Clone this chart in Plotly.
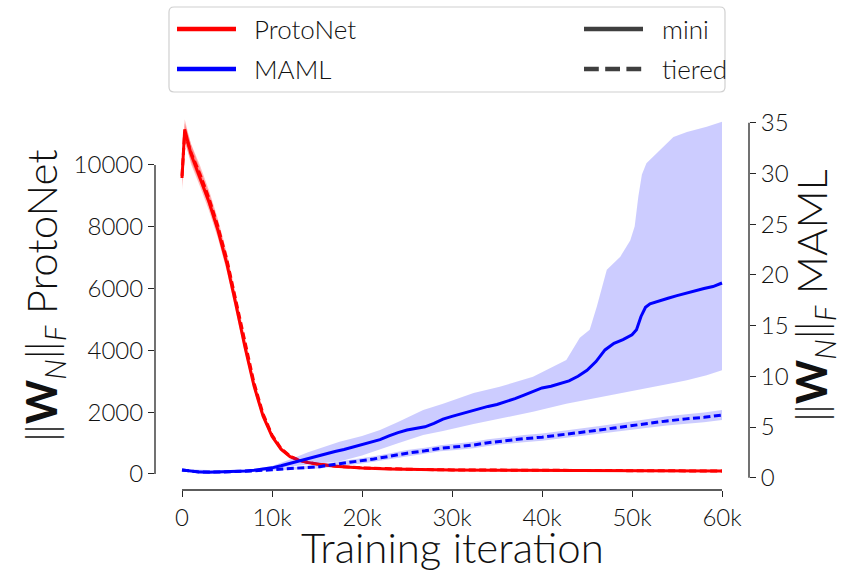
import plotly.graph_objects as go

# ---------------- data ----------------
proto_mini_it = [0, 300, 1000, 2000, 3000, 4000, 5000, 6000, 7000, 8000, 9000, 10000, 11000, 12000,
                 13000, 14000, 15000, 17000, 20000, 23000, 26000, 30000, 35000, 40000, 45000, 50000,
                 55000, 60000]
proto_mini = [9580, 11150, 10350, 9600, 8800, 7880, 6780, 5470, 4100, 2850, 1880, 1220, 800, 560,
              440, 370, 320, 250, 190, 162, 145, 130, 120, 112, 105, 100, 97, 95]
proto_mini_sd = [380, 330, 320, 300, 280, 260, 240, 215, 180, 145, 115, 85, 60, 45,
                 35, 30, 25, 22, 20, 18, 17, 16, 15, 15, 14, 14, 14, 14]

proto_tiered_it = proto_mini_it
proto_tiered = [9650, 11050, 10400, 9700, 8920, 8000, 6920, 5600, 4220, 2950, 1950, 1260, 830, 580,
                450, 375, 325, 255, 195, 165, 148, 132, 122, 113, 106, 101, 98, 96]
proto_tiered_sd = [350, 300, 290, 280, 260, 240, 220, 195, 160, 125, 95, 70, 50, 40,
                   32, 28, 24, 21, 19, 17, 16, 15, 14, 14, 13, 13, 13, 13]

maml_mini_it = [0, 1000, 2000, 3000, 4000, 5000, 6000, 7000, 8000, 9000, 10000, 11000, 12000, 13000,
                14000, 15000, 16000, 17000, 18000, 19000, 20000, 21000, 22000, 23000, 24000, 25000,
                26000, 27000, 28000, 29000, 30000, 31000, 32000, 33000, 34000, 35000, 36000, 37000,
                38000, 39000, 40000, 41000, 42000, 43000, 44000, 45000, 46000, 47000, 48000, 49000,
                50000, 50500, 51000, 51500, 52000, 53000, 54000, 55000, 56000, 57000, 58000, 59000,
                60000]
maml_mini = [0.76, 0.63, 0.55, 0.53, 0.55, 0.59, 0.63, 0.67, 0.74, 0.83, 0.97, 1.18, 1.42, 1.64,
             1.88, 2.15, 2.38, 2.58, 2.78, 3.02, 3.22, 3.45, 3.75, 4.12, 4.45, 4.70,
             4.88, 5.02, 5.35, 5.78, 6.05, 6.30, 6.58, 6.82, 7.03, 7.22, 7.50, 7.80,
             8.15, 8.47, 8.85, 9.02, 9.25, 9.55, 10.0, 10.6, 11.45, 12.6, 13.25, 13.62,
             14.1, 14.6, 15.9, 16.8, 17.15, 17.45, 17.7, 17.95, 18.2, 18.45, 18.65, 18.85,
             19.2]
maml_mini_band_it = [0, 5000, 8000, 10000, 12000, 14000, 16000, 17500, 20000, 22000, 24000, 26800,
                     29000, 32400, 35300, 39000, 42700, 44200, 45300, 46100, 47200, 48700, 49800,
                     50300, 50700, 51100, 51600, 53100, 54600, 56100, 58300, 60000]
maml_mini_upper = [0.85, 0.68, 0.85, 1.15, 1.8, 2.5, 3.1, 3.55, 4.1, 4.7, 5.5, 6.68,
                   7.3, 8.35, 8.96, 9.96, 11.6, 13.8, 14.6, 16.9, 20.5, 21.8, 23.4,
                   24.8, 27.7, 29.9, 31.0, 32.3, 33.6, 34.1, 34.6, 35.1]
maml_mini_lower = [0.67, 0.52, 0.65, 0.82, 1.08, 1.3, 1.5, 1.6, 2.2, 2.8, 3.4, 4.2,
                   4.6, 5.3, 5.86, 6.5, 7.3, 7.55, 7.75, 7.9, 8.05, 8.3, 8.5,
                   8.6, 8.65, 8.7, 8.8, 9.1, 9.35, 9.6, 10.1, 10.6]

maml_tiered_it = [0, 2000, 4000, 6000, 8000, 10000, 12000, 14000, 15300, 17500, 20000, 21300, 23000,
                  25000, 27000, 28700, 30500, 32400, 34000, 35300, 36400, 38000, 40000, 42000, 44000,
                  46400, 48000, 50000, 52000, 53900, 56000, 58000, 60000]
maml_tiered = [0.76, 0.55, 0.55, 0.6, 0.68, 0.78, 0.88, 1.0, 1.09, 1.38, 1.65, 1.85, 2.1,
               2.42, 2.65, 2.9, 3.05, 3.22, 3.45, 3.6, 3.72, 3.85, 4.0, 4.2, 4.45,
               4.7, 4.9, 5.15, 5.4, 5.6, 5.8, 5.95, 6.18]
maml_tiered_sd = [0.08, 0.06, 0.06, 0.07, 0.08, 0.1, 0.12, 0.15, 0.18, 0.22, 0.25, 0.27, 0.28,
                  0.3, 0.3, 0.3, 0.32, 0.32, 0.33, 0.33, 0.34, 0.35, 0.36, 0.37, 0.38,
                  0.4, 0.4, 0.42, 0.44, 0.45, 0.46, 0.48, 0.5]

x_ticks = [0, 10000, 20000, 30000, 40000, 50000, 60000]
x_ticklabels = ["0", "10k", "20k", "30k", "40k", "50k", "60k"]
y_left_ticks = [0, 2000, 4000, 6000, 8000, 10000]
y_right_ticks = [0, 5, 10, 15, 20, 25, 30, 35]

legend_methods = ["ProtoNet", "MAML"]
legend_datasets = ["mini", "tiered"]

# ---------------- layout geometry ----------------
W, H = 846, 572
ML, MR, MT, MB = 155, 97, 103, 82
PW = W - ML - MR
PH = H - MT - MB


def px_x(px):
    return (px - ML) / PW


def px_y(py):
    return (H - MB - py) / PH


FONT = "Lato"
WEIGHT = 300
TXT = "#111111"
SPINE = "#262626"
RED = "#ff0000"
BLUE = "#0000ff"
RED_FILL = "rgba(255,0,0,0.25)"
BLUE_FILL = "rgba(0,0,255,0.2)"

fig = go.Figure()


def band(x, lo, hi, color, yaxis):
    fig.add_trace(go.Scatter(x=list(x) + list(x)[::-1], y=list(hi) + list(lo)[::-1],
                             fill="toself", fillcolor=color, line=dict(width=0),
                             mode="lines", showlegend=False, hoverinfo="skip", yaxis=yaxis))


def line(x, y, color, dash, yaxis):
    fig.add_trace(go.Scatter(x=x, y=y, mode="lines", line=dict(color=color, width=3, dash=dash),
                             showlegend=False, yaxis=yaxis))


# ProtoNet (left axis)
band(proto_mini_it, [v - s for v, s in zip(proto_mini, proto_mini_sd)],
     [v + s for v, s in zip(proto_mini, proto_mini_sd)], RED_FILL, "y")
line(proto_mini_it, proto_mini, RED, "solid", "y")
band(proto_tiered_it, [v - s for v, s in zip(proto_tiered, proto_tiered_sd)],
     [v + s for v, s in zip(proto_tiered, proto_tiered_sd)], RED_FILL, "y")
line(proto_tiered_it, proto_tiered, RED, "7px,3.5px", "y")

# MAML (right axis)
band(maml_mini_band_it, maml_mini_lower, maml_mini_upper, BLUE_FILL, "y2")
line(maml_mini_it, maml_mini, BLUE, "solid", "y2")
band(maml_tiered_it, [v - s for v, s in zip(maml_tiered, maml_tiered_sd)],
     [v + s for v, s in zip(maml_tiered, maml_tiered_sd)], BLUE_FILL, "y2")
line(maml_tiered_it, maml_tiered, BLUE, "7px,3.5px", "y2")

tickfont = dict(family=FONT, size=24, color=TXT, weight=WEIGHT)
common = dict(showgrid=False, zeroline=False, showline=False, ticks="outside", ticklen=6,
              tickwidth=1.3, tickcolor=SPINE, tickfont=tickfont)

fig.update_layout(
    width=W, height=H, margin=dict(l=ML, r=MR, t=MT, b=MB),
    paper_bgcolor="white", plot_bgcolor="white", showlegend=False,
    xaxis=dict(range=[-3000, 63000], tickvals=x_ticks, ticktext=x_ticklabels, **common),
    yaxis=dict(range=[-518, 12006], tickvals=y_left_ticks,
               ticktext=[str(v) for v in y_left_ticks], **common),
    yaxis2=dict(range=[-1.213, 36.95], tickvals=y_right_ticks, overlaying="y", side="right",
                anchor="x", **common),
)

shapes = []
# trimmed spines
shapes.append(dict(type="line", xref="paper", yref="y", x0=0, x1=0, y0=0, y1=10000,
                   line=dict(color=SPINE, width=1.3)))
shapes.append(dict(type="line", xref="x", yref="paper", x0=0, x1=60000, y0=0, y1=0,
                   line=dict(color=SPINE, width=1.3)))
shapes.append(dict(type="line", xref="paper", yref="y2", x0=1, x1=1, y0=0, y1=35,
                   line=dict(color=SPINE, width=1.3)))

# legend box (rounded)
bx0, bx1, by0, by1, r = 169, 725, 7, 92, 5
path = (f"M {px_x(bx0 + r)},{px_y(by0)} L {px_x(bx1 - r)},{px_y(by0)} "
        f"Q {px_x(bx1)},{px_y(by0)} {px_x(bx1)},{px_y(by0 + r)} "
        f"L {px_x(bx1)},{px_y(by1 - r)} Q {px_x(bx1)},{px_y(by1)} {px_x(bx1 - r)},{px_y(by1)} "
        f"L {px_x(bx0 + r)},{px_y(by1)} Q {px_x(bx0)},{px_y(by1)} {px_x(bx0)},{px_y(by1 - r)} "
        f"L {px_x(bx0)},{px_y(by0 + r)} Q {px_x(bx0)},{px_y(by0)} {px_x(bx0 + r)},{px_y(by0)} Z")
shapes.append(dict(type="path", xref="paper", yref="paper", path=path,
                   line=dict(color="#d0d0d0", width=1.2), fillcolor="rgba(255,255,255,0.8)"))

rows_y = [29, 69]
for name, col, yy in zip(legend_methods, [RED, BLUE], rows_y):
    shapes.append(dict(type="line", xref="paper", yref="paper", x0=px_x(177), x1=px_x(236),
                       y0=px_y(yy), y1=px_y(yy), line=dict(color=col, width=4.5)))
for name, dash, yy in zip(legend_datasets, ["solid", "14.8px,6.4px"], rows_y):
    shapes.append(dict(type="line", xref="paper", yref="paper", x0=px_x(584), x1=px_x(643),
                       y0=px_y(yy), y1=px_y(yy), line=dict(color="#3f3f3f", width=4.5, dash=dash)))
fig.update_layout(shapes=shapes)

lfont = dict(family=FONT, size=26, color=TXT, weight=WEIGHT)
ann = []
for name, yy in zip(legend_methods, rows_y):
    ann.append(dict(text=name, xref="paper", yref="paper", x=px_x(252), y=px_y(yy),
                    xanchor="left", yanchor="middle", showarrow=False, font=lfont))
for name, yy in zip(legend_datasets, rows_y):
    ann.append(dict(text=name, xref="paper", yref="paper", x=px_x(660), y=px_y(yy),
                    xanchor="left", yanchor="middle", showarrow=False, font=lfont))

tfont = dict(family=FONT, size=42, color=TXT, weight=WEIGHT)
norm = "\u2016<b>W</b><sub><i>N</i></sub>\u2016<sub><i>F</i></sub>"
ann.append(dict(text=norm + " ProtoNet", xref="paper", yref="paper", x=px_x(44), y=px_y(296),
                xanchor="center", yanchor="middle", textangle=-90, showarrow=False, font=tfont))
ann.append(dict(text=norm + " MAML", xref="paper", yref="paper", x=px_x(814), y=px_y(296),
                xanchor="center", yanchor="middle", textangle=-90, showarrow=False, font=tfont))
ann.append(dict(text="Training iteration", xref="paper", yref="paper", x=px_x(452), y=px_y(547),
                xanchor="center", yanchor="middle", showarrow=False, font=tfont))
fig.update_layout(annotations=ann)

fig.write_html("out.html", config={"displayModeBar": False},
               post_script="document.body.style.margin='0';")
